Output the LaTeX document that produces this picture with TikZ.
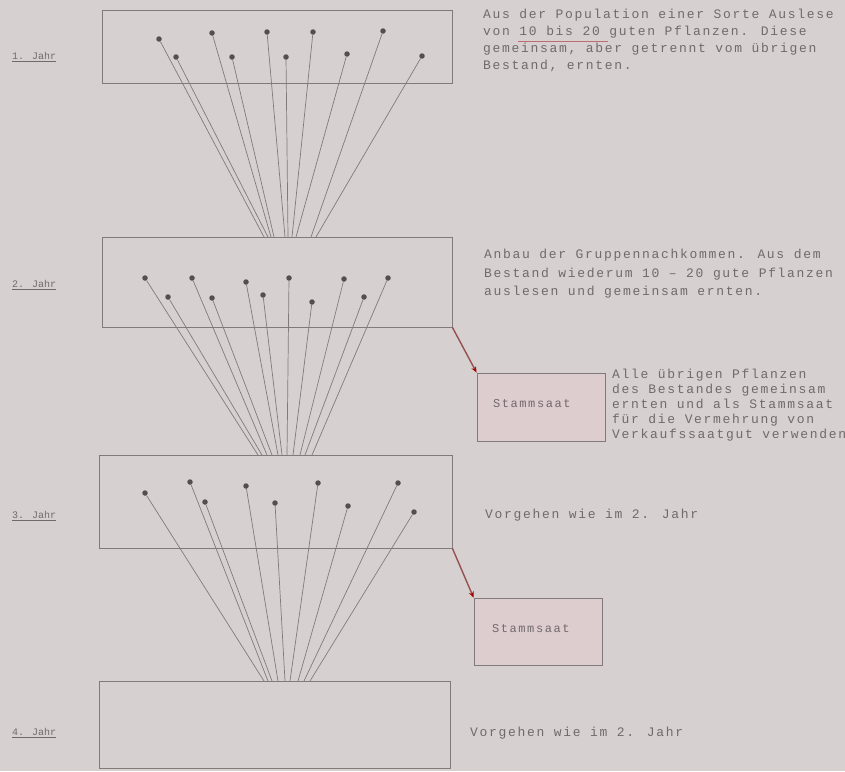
\documentclass[tikz,border=0pt]{standalone}
\usepackage{fontspec}
\usetikzlibrary{arrows.meta}
\newfontfamily\tw[LetterSpace=13]{Liberation Mono}
\newfontfamily\lw{Liberation Mono}
\definecolor{bg}{RGB}{214,208,208}
\definecolor{ink}{RGB}{128,122,122}
\definecolor{txt}{RGB}{112,106,106}
\definecolor{dotc}{RGB}{85,78,78}
\definecolor{pinkfill}{RGB}{222,205,207}
\definecolor{redarrow}{RGB}{150,80,80}
\definecolor{redline}{RGB}{190,110,115}
\tikzset{
  box/.style={draw=ink, line width=0.9pt, inner sep=0pt},
  sbox/.style={draw=ink, line width=0.9pt, fill=pinkfill, inner sep=0pt},
  dot/.style={circle, fill=dotc, inner sep=0pt, minimum size=5.5pt},
  conn/.style={draw=ink, line width=0.7pt},
  redarr/.style={draw=redarrow, line width=1.4pt, -{Stealth[length=6pt,width=5pt,color=red!65!black]}},
  desc/.style={text=txt, anchor=west, inner sep=0pt, align=left, font={\tw\fontsize{13}{17}\selectfont}},
  stext/.style={text=txt, anchor=west, inner sep=0pt, font={\tw\fontsize{12}{14}\selectfont}},
  yearlab/.style={text=txt, anchor=west, inner sep=0pt, font={\lw\fontsize{10}{12}\selectfont}},
}
\begin{document}
\begin{tikzpicture}[x=1pt,y=-1pt]
\fill[bg] (0,0) rectangle (845,771);
\useasboundingbox (0,0) rectangle (845,771);

% main boxes
\node[box, minimum width=350pt, minimum height=73pt] (b1) at (277,46.5) {};
\node[box, minimum width=350pt, minimum height=90pt] (b2) at (277,282) {};
\node[box, minimum width=353pt, minimum height=93pt] (b3) at (275.5,501.5) {};
\node[box, minimum width=351pt, minimum height=87pt] (b4) at (274.5,724.5) {};

% Stammsaat boxes
\node[sbox, minimum width=128pt, minimum height=68pt] (s1) at (541,407) {};
\node[sbox, minimum width=128pt, minimum height=67pt] (s2) at (538,631.5) {};
\node[stext] (s1t) at (493,404) {Stammsaat};
\node[stext] (s2t) at (492,629) {Stammsaat};

% year labels
\node[yearlab] (y1) at (12,57) {\underline{1. Jahr}};
\node[yearlab] (y2) at (12,285) {\underline{2. Jahr}};
\node[yearlab] (y3) at (12,516) {\underline{3. Jahr}};
\node[yearlab] (y4) at (12,733) {\underline{4. Jahr}};

% year 1 plants -> year 2
\foreach \n/\x/\y/\ex in {1/159/39/264, 2/176/57/268, 3/212/33/271, 4/232/57/274, 5/267/32/285, 6/286/57/288, 7/313/32/292, 8/347/54/296, 9/383/31/311, 10/422/56/316}{
  \node[dot] (p1-\n) at (\x,\y) {};
  \coordinate (e1-\n) at (\ex,237);
  \draw[conn] (p1-\n) -- (e1-\n);
}
% year 2 plants -> year 3
\foreach \n/\x/\y/\ex in {1/145/278/258, 2/168/297/262, 3/192/278/267, 4/212/298/272, 5/246/282/278, 6/263/295/282, 7/289/278/287, 8/312/302/293, 9/344/279/300, 10/364/297/305, 11/388/278/312}{
  \node[dot] (p2-\n) at (\x,\y) {};
  \coordinate (e2-\n) at (\ex,455);
  \draw[conn] (p2-\n) -- (e2-\n);
}
% year 3 plants -> year 4
\foreach \n/\x/\y/\ex in {1/145/493/264, 2/190/482/268, 3/205/502/272, 4/246/486/278, 5/275/503/285, 6/318/483/290, 7/348/506/298, 8/398/483/304, 9/414/512/310}{
  \node[dot] (p3-\n) at (\x,\y) {};
  \coordinate (e3-\n) at (\ex,681);
  \draw[conn] (p3-\n) -- (e3-\n);
}

% red arrows
\draw[redarr] (b2.south east) -- (s1.north west);
\draw[redarr] (b3.south east) -- (s2.north west);

% descriptions
\node[desc, anchor=north west] (t1) at (483,9) {Aus der Population einer Sorte Auslese\\von 10 bis 20 guten Pflanzen. Diese\\gemeinsam, aber getrennt vom übrigen\\Bestand, ernten.};
\draw[redline, line width=0.8pt] (518,41) -- (608,41);
\node[desc, anchor=north west, font={\tw\fontsize{13}{18.5}\selectfont}] (t2) at (484,249) {Anbau der Gruppennachkommen. Aus dem\\Bestand wiederum 10 – 20 gute Pflanzen\\auslesen und gemeinsam ernten.};
\node[desc, anchor=north west, font={\tw\fontsize{13}{15}\selectfont}] (t3) at (612,369) {Alle übrigen Pflanzen\\des Bestandes gemeinsam\\ernten und als Stammsaat\\für die Vermehrung von\\Verkaufssaatgut verwenden};
\node[desc] (t4) at (485,515) {Vorgehen wie im 2. Jahr};
\node[desc] (t5) at (470,733) {Vorgehen wie im 2. Jahr};
\end{tikzpicture}
\end{document}
